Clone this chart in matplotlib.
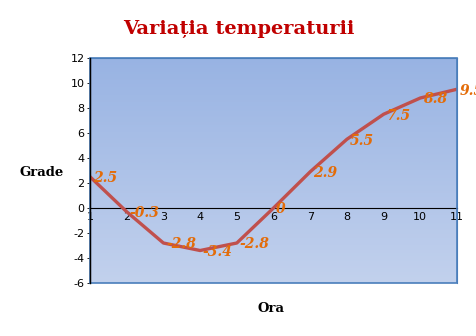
import numpy as np
import matplotlib.pyplot as plt
from matplotlib.patches import Rectangle
from matplotlib.colors import LinearSegmentedColormap

plt.rcParams['axes.unicode_minus'] = False

# data
ore = [1, 2, 3, 4, 5, 6, 7, 8, 9, 10, 11]
grade = [2.5, -0.3, -2.8, -3.4, -2.8, 0, 2.9, 5.5, 7.5, 8.8, 9.5]
etichete = ['2.5', '-0.3', '-2.8', '-3.4', '-2.8', '0', '2.9', '5.5', '7.5', '8.8', '9.5']
yticks = [-6, -4, -2, 0, 2, 4, 6, 8, 10, 12]

fig = plt.figure(figsize=(4.77, 3.36), dpi=100)
ax = fig.add_axes([0.1887, 0.1577, 0.7694, 0.6697])

# fundal in degrade
grad = np.linspace(0, 1, 256).reshape(-1, 1)
cmap = LinearSegmentedColormap.from_list('bg', ['#c2d1ed', '#98b3e3'])
ax.imshow(grad, cmap=cmap, aspect='auto', extent=[1, 11, -6, 12], origin='lower', zorder=0)

ax.plot(ore, grade, color='#c0504d', lw=2.4, zorder=3, solid_joinstyle='round')

for x, y, t in zip(ore, grade, etichete):
    ax.annotate(t, (x, y), xytext=(2, -1), textcoords='offset points',
                ha='left', va='center', color='#e36c09', fontsize=10,
                family='DejaVu Serif', fontweight='bold', style='italic',
                zorder=4, annotation_clip=False)

ax.set_xlim(1, 11)
ax.set_ylim(-6, 12)
ax.set_xticks(ore)
ax.set_yticks(yticks)

for s in ['top', 'right']:
    ax.spines[s].set_color('#4a7ebb')
ax.spines['left'].set_color('black')
ax.spines['bottom'].set_position(('data', 0))
ax.spines['bottom'].set_color('black')
ax.add_patch(Rectangle((0, 0), 1, 1, transform=ax.transAxes, fill=False,
                       edgecolor='#4a7ebb', lw=1.2, zorder=5, clip_on=False))
ax.plot([0, 0], [0, 1], transform=ax.transAxes, color='black', lw=1, zorder=6, clip_on=False)

ax.tick_params(axis='both', labelsize=8, length=2, width=0.6, pad=2)
ax.tick_params(axis='x', length=0, pad=3)

fig.text(0.5, 0.915, 'Variația temperaturii', ha='center', va='center',
         color='#c00000', fontsize=14, family='DejaVu Serif', fontweight='bold')
fig.text(0.087, 0.488, 'Grade', ha='center', va='center', fontsize=9.5,
         family='DejaVu Serif', fontweight='bold')
fig.text(0.568, 0.083, 'Ora', ha='center', va='center', fontsize=9.5,
         family='DejaVu Serif', fontweight='bold')

fig.savefig('out.png', dpi=100)
